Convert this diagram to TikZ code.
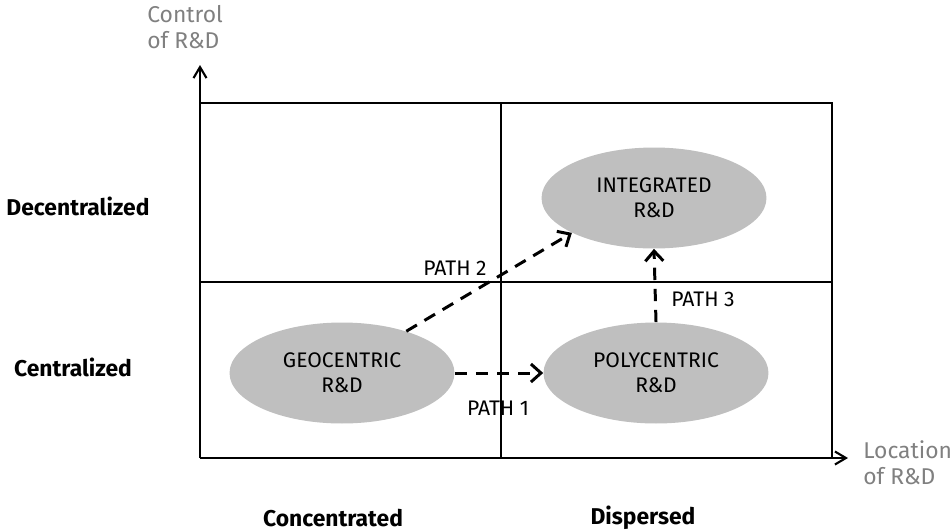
\documentclass[tikz,border=0pt]{standalone}
\usepackage{fontspec}
\setmainfont{Fira Sans}
\usetikzlibrary{arrows.meta,positioning,shapes.geometric}

\begin{document}
\begin{tikzpicture}[x=0.02cm,y=-0.02cm,
  strategy/.style={ellipse,fill=black!25,align=center,inner sep=0pt,
    minimum width=4.5cm,minimum height=2.02cm,
    font=\fontsize{12}{14}\selectfont},
  axislabel/.style={align=left,text=black!50,inner sep=0pt,
    font=\fontsize{13}{15}\selectfont},
  rowlabel/.style={inner sep=0pt,font=\fontsize{13}{15}\selectfont\bfseries},
  pathlabel/.style={inner sep=0pt,font=\fontsize{12}{14}\selectfont},
  axis/.style={-{Straight Barb[length=2.2mm,width=2.6mm]},line width=1.2pt},
  grid/.style={line width=.6pt},
  move/.style={-{Straight Barb[length=2mm,width=3.6mm]},dashed,
    dash pattern=on 7pt off 5pt,line width=1.7pt}
]
\useasboundingbox (0,0) rectangle (952,531);

% Axes and the two-by-two grid.
\coordinate (origin) at (200,458);
\coordinate (ytip) at (200,65);
\coordinate (xtip) at (848,458);
\draw[axis] (origin) -- (ytip);
\draw[axis] (origin) -- (xtip);
\draw[grid] (200,103) -- (832,103) -- (832,458);
\draw[grid] (501,103) -- (501,458);
\draw[grid] (200,282) -- (832,282);

\node[axislabel,anchor=north west] (control) at (147,5) {Control\\of R\&D};
\node[axislabel,anchor=north west] (location) at (863,440) {Location\\of R\&D};

\node[rowlabel] (decentral) at (78,206) {Decentralized};
\node[rowlabel] (central) at (73,367) {Centralized};
\node[rowlabel] (concentrated) at (333,518) {Concentrated};
\node[rowlabel] (dispersed) at (643,518) {Dispersed};

% The three organisation types.
\node[strategy] (geo) at (342,373) {GEOCENTRIC\\R\&D};
\node[strategy] (poly) at (656,373) {POLYCENTRIC\\R\&D};
\node[strategy] (integ) at (654,198) {INTEGRATED\\R\&D};

% Paths between them.
\draw[move] (geo.33) -- (integ.203);
\node[pathlabel] at (455,268) {PATH 2};
\draw[move] (geo.east) -- (poly.west);
\node[pathlabel] at (498,408) {PATH 1};
\draw[move] (poly.north) -- (integ.south);
\node[pathlabel] at (703,299) {PATH 3};
\end{tikzpicture}
\end{document}
